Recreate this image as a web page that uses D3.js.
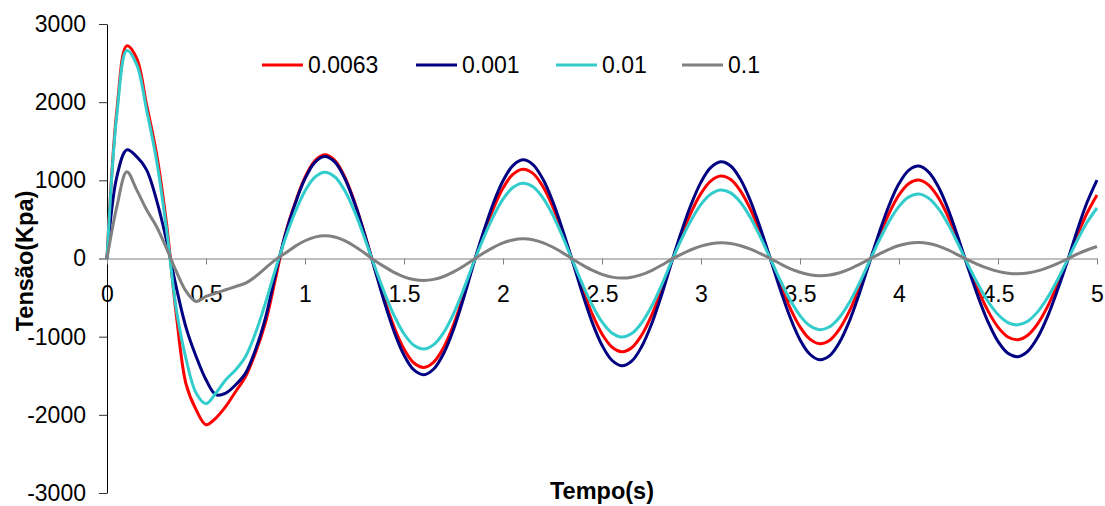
<!DOCTYPE html>
<html>
<head>
<meta charset="utf-8">
<script src="https://cdn.jsdelivr.net/npm/d3@7"></script>
<style>
    body { margin: 0; background: #fff; }
    svg { display: block; font-family: "Liberation Sans", Arial, Helvetica, sans-serif; }
</style>
</head>
<body>
<div id="chart"></div>
<script>
// samples every 0.05 s, from 0 to 5 s
const TIME_STEP = 0.05;

const seriesNames = ["0.0063", "0.001", "0.01", "0.1"];
const seriesColors = ["#ff0000", "#000080", "#33cccc", "#808080"];

const values0063 = [
    0, 1900, 2720, 2560, 1965, 1343, 460, -720, -1615, -1935, -2127, -2041, -1893, -1701, -1509, -1206, -822, -272,
    305, 711, 1038, 1250, 1326, 1256, 1048, 724, 324,
    -109, -516, -877, -1158, -1337, -1394, -1326, -1140, -850, -484, -75,
    298, 632, 901, 1077, 1143, 1092, 927, 669, 339,
    -23, -383, -707, -965, -1132, -1193, -1142, -982, -731, -412, -52,
    286, 589, 833, 994, 1055, 1010, 862, 628, 329, 0,
    -332, -633, -874, -1031, -1090, -1045, -900, -671, -376, -48,
    281, 578, 813, 960, 1004, 939, 774, 524, 217,
    -106, -408, -673, -878, -1004, -1039, -982, -836, -615, -337, -31,
    291, 582, 813
];

const values001 = [
    0, 1049, 1390, 1304, 1134, 750, 239, -370, -890, -1253, -1551, -1743, -1721, -1615, -1466, -1168, -763, -208,
    300, 699, 1021, 1230, 1304, 1235, 1030, 712, 318,
    -116, -550, -935, -1236, -1426, -1487, -1414, -1216, -907, -516, -80,
    329, 698, 994, 1189, 1262, 1205, 1023, 738, 375,
    -26, -440, -814, -1110, -1302, -1372, -1313, -1129, -841, -473, -60,
    335, 690, 977, 1165, 1237, 1184, 1011, 736, 386, 0,
    -395, -752, -1039, -1225, -1295, -1242, -1070, -798, -447, -57,
    331, 681, 958, 1131, 1183, 1106, 912, 618, 256,
    -128, -493, -813, -1061, -1213, -1256, -1187, -1011, -743, -407, -38,
    359, 719, 1004
];

const values01 = [
    0, 1850, 2660, 2480, 1900, 1260, 390, -650, -1295, -1721, -1858, -1721, -1551, -1423, -1253, -954, -571, -145,
    254, 592, 865, 1042, 1105, 1046, 873, 603, 270,
    -90, -429, -729, -963, -1111, -1159, -1102, -948, -707, -402, -63,
    252, 533, 760, 908, 964, 921, 782, 564, 286,
    -19, -322, -595, -811, -952, -1003, -960, -825, -615, -346, -44,
    238, 489, 693, 826, 877, 839, 717, 522, 274, 0,
    -278, -529, -730, -861, -910, -873, -752, -561, -314, -40,
    231, 475, 667, 788, 824, 770, 635, 430, 178,
    -87, -333, -550, -717, -820, -849, -802, -683, -502, -275, -26,
    231, 463, 646
];

const values1 = [
    0, 665, 1110, 878, 623, 409, 133, -166, -422, -550, -486, -442, -400, -358, -315, -230, -123, -17,
    67, 155, 227, 273, 290, 275, 229, 158, 71,
    -22, -104, -177, -234, -269, -281, -267, -230, -171, -98, -15,
    66, 139, 199, 237, 252, 241, 204, 147, 75,
    -5, -81, -149, -203, -238, -251, -240, -207, -154, -87, -11,
    54, 112, 158, 188, 200, 191, 163, 119, 62, 0,
    -67, -128, -176, -208, -220, -211, -182, -136, -76, -10,
    57, 118, 166, 196, 205, 192, 158, 107, 44,
    -20, -77, -127, -165, -189, -196, -185, -158, -116, -64, -6,
    55, 109, 153
];

const xTicks = [0, 0.5, 1, 1.5, 2, 2.5, 3, 3.5, 4, 4.5, 5];
const yTicks = [-3000, -2000, -1000, 0, 1000, 2000, 3000];

// =================================================================

const width = 1105,
    height = 506;

const legendX = [262, 416, 556, 682]; // start of each legend swatch

let svg = d3.select("#chart").append("svg")
    .attr("width", width)
    .attr("height", height);

let x = d3.scaleLinear()
    .domain([0, 5])
    .range([107, 1097]);

let y = d3.scaleLinear()
    .domain([-3000, 3000])
    .range([493, 24]);

// y axis
let yAxis = svg.append("g")
    .attr("transform", "translate(107,0)")
    .call(d3.axisLeft(y)
        .tickValues(yTicks)
        .tickSize(8)
        .tickSizeOuter(0)
        .tickPadding(13)
        .tickFormat(d => String(d)));

yAxis.select(".domain").attr("stroke", "#000");
yAxis.selectAll(".tick line").attr("stroke", "#333");
yAxis.selectAll(".tick text")
    .style("font-size", "23px")
    .attr("fill", "#000");

// x axis along zero
let xAxis = svg.append("g")
    .attr("transform", `translate(0,${y(0)})`)
    .call(d3.axisBottom(x)
        .tickValues(xTicks)
        .tickSize(6)
        .tickSizeOuter(0)
        .tickPadding(21)
        .tickFormat(d => String(d)));

xAxis.select(".domain").attr("stroke", "#808080");
xAxis.selectAll(".tick line").attr("stroke", "#808080");
xAxis.selectAll(".tick text")
    .style("font-size", "23px")
    .attr("fill", "#000");

// axis titles
svg.append("text")
    .attr("x", 602)
    .attr("y", 499)
    .attr("text-anchor", "middle")
    .style("font-size", "23.5px")
    .style("font-weight", "bold")
    .text("Tempo(s)");

svg.append("text")
    .attr("transform", "translate(33,261) rotate(-90)")
    .attr("text-anchor", "middle")
    .style("font-size", "23.5px")
    .style("font-weight", "bold")
    .text("Tensão(Kpa)");

// series lines
let allSeries = [values0063, values001, values01, values1];

let line = d3.line()
    .x((d, i) => x(i * TIME_STEP))
    .y(d => y(d))
    .curve(d3.curveCatmullRom.alpha(0.5));

svg.append("g").selectAll("path")
    .data(allSeries)
    .enter()
    .append("path")
    .attr("d", line)
    .attr("fill", "none")
    .attr("stroke", (d, i) => seriesColors[i])
    .attr("stroke-width", 3)
    .attr("stroke-linejoin", "round");

// legend
let legend = svg.append("g").selectAll("g")
    .data(seriesNames)
    .enter()
    .append("g")
    .attr("transform", (d, i) => `translate(${legendX[i]},65)`);

legend.append("line")
    .attr("x1", 0)
    .attr("x2", 41)
    .attr("stroke", (d, i) => seriesColors[i])
    .attr("stroke-width", 3);

legend.append("text")
    .attr("x", 46)
    .attr("dy", "0.35em")
    .style("font-size", "23px")
    .text(d => d);
</script>
</body>
</html>
